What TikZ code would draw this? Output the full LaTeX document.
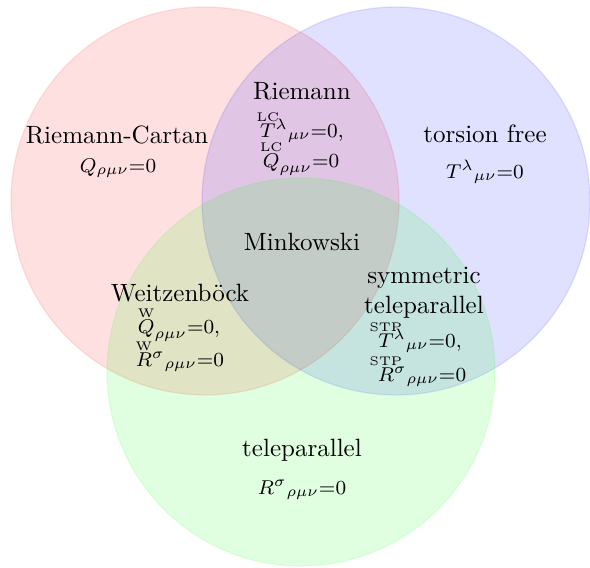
\documentclass[tikz,border=0pt]{standalone}
\usepackage{amsmath}
\usetikzlibrary{positioning}
\tikzset{
  vd set/.style={fill opacity=.12, draw opacity=.1, line width=.5pt},
  vd label/.style={font=\normalsize, text=black, inner sep=0pt, anchor=base, align=center},
  vd formula/.style={font=\footnotesize, text=black, inner sep=0pt, anchor=base}
}
% small mark over a symbol, kept out of the script heights and widths
\newcommand{\vdmark}[2]{{\vphantom{#2}\smash{\overset{\makebox[0pt]{\raisebox{-1pt}[0pt][0pt]{$\scriptscriptstyle\mathrm{#1}$}}}{#2}}}}

\begin{document}
\begin{tikzpicture}[x=.4pt,y=-.4pt]
  \useasboundingbox (0,0) rectangle (590,567);

  % the three sets
  \path[vd set, fill=red, draw=red] (205,201) circle[radius=194];
  \path[vd set, fill=blue, draw=blue] (396,201) circle[radius=194];
  \path[vd set, fill=green, draw=green] (301,372) circle[radius=194];

  % single sets
  \node[vd label] (rc) at (117,143) {Riemann-Cartan};
  \node[vd formula] (rcEq) at (118,172) {$Q_{\rho\mu\nu}{=}0$};
  \node[vd label] (tf) at (485,142) {torsion free};
  \node[vd formula] (tfEq) at (485,178) {$T^{\lambda}{}_{\mu\nu}{=}0$};
  \node[vd label] (tele) at (302,456) {teleparallel};
  \node[vd formula] (teleEq) at (302,494) {$R^{\sigma}{}_{\rho\mu\nu}{=}0$};

  % pairwise overlaps
  \node[vd label] (riem) at (302,99) {Riemann};
  \node[vd formula] (riemT) at (302,137) {$\vdmark{LC}{T}^{\lambda}{}_{\mu\nu}{=}0,$};
  \node[vd formula] (riemQ) at (301,167) {$\vdmark{LC}{Q}_{\rho\mu\nu}{=}0$};
  \node[vd label] (weitz) at (180,301) {Weitzenb\"ock};
  \node[vd formula] (weitzQ) at (179,333) {$\vdmark{W}{Q}_{\rho\mu\nu}{=}0,$};
  \node[vd formula] (weitzR) at (180,366) {$\vdmark{W}{R}^{\sigma}{}_{\rho\mu\nu}{=}0$};
  \node[vd label] (stp) at (424,313) {symmetric\\teleparallel};
  \node[vd formula] (stpT) at (420,347) {$\vdmark{STP}{T}^{\lambda}{}_{\mu\nu}{=}0,$};
  \node[vd formula] (stpR) at (422,381) {$\vdmark{STP}{R}^{\sigma}{}_{\rho\mu\nu}{=}0$};

  % all three
  \node[vd label] (mink) at (302,250) {Minkowski};
\end{tikzpicture}
\end{document}
